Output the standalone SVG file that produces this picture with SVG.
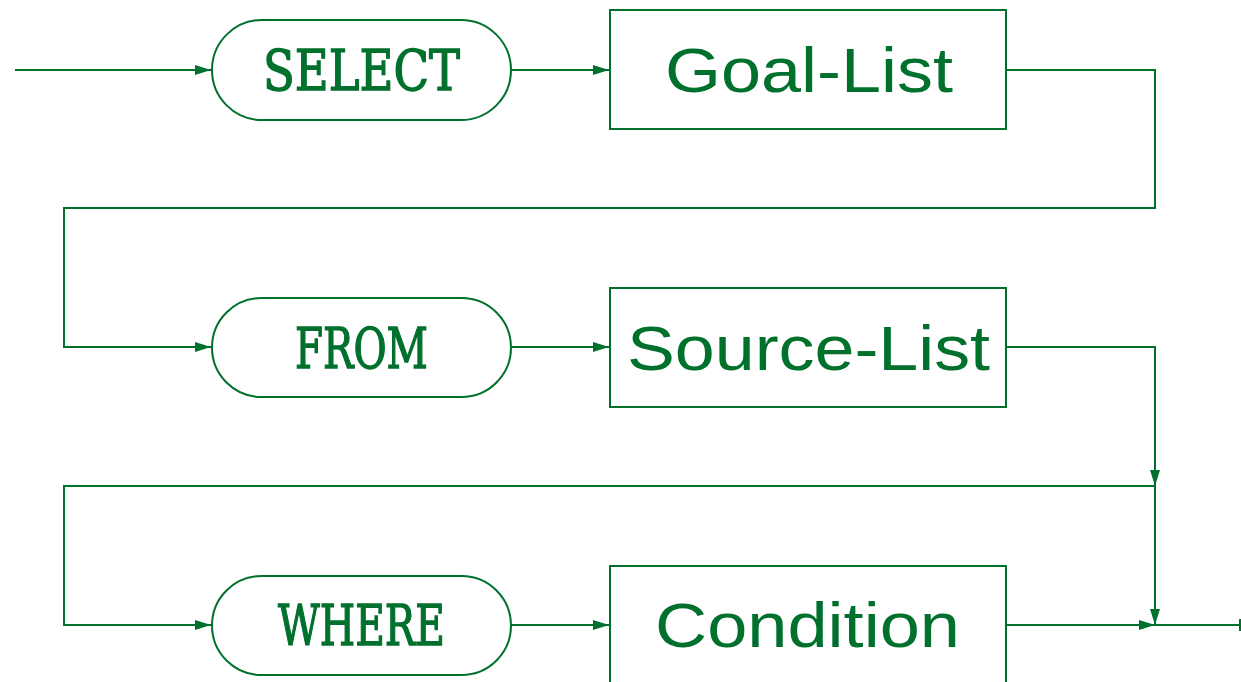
<svg xmlns="http://www.w3.org/2000/svg" width="1241" height="682" viewBox="0 0 1241 682">
  <defs>
    <marker id="arrow" viewBox="0 0 16 10" refX="16" refY="5" markerWidth="16" markerHeight="10" markerUnits="userSpaceOnUse" orient="auto">
      <path d="M0,0 L16,5 L0,10 Z" fill="#00702d"/>
    </marker>
    <style>
      .line { fill: none; stroke: #00702d; stroke-width: 2; stroke-linejoin: miter; }
      .shape { fill: #ffffff; stroke: #00702d; stroke-width: 2; }
      .kw { font-family: "DejaVu Serif", "Liberation Mono", monospace; font-stretch: condensed; font-size: 56px; fill: #00702d; stroke: #00702d; stroke-width: 1.3; }
      .nt { font-family: "Liberation Sans", Arial, sans-serif; font-size: 63px; fill: #00702d; }
    </style>
  </defs>

  <!-- connectors -->
  <g id="connectors">
    <line class="line" x1="15" y1="70" x2="211" y2="70" marker-end="url(#arrow)"/>
    <line class="line" x1="511" y1="70" x2="609" y2="70" marker-end="url(#arrow)"/>
    <polyline class="line" points="1006,70 1155,70 1155,208 64,208 64,347 211,347" marker-end="url(#arrow)"/>
    <line class="line" x1="511" y1="347" x2="609" y2="347" marker-end="url(#arrow)"/>
    <polyline class="line" points="1006,347 1155,347 1155,486" marker-end="url(#arrow)"/>
    <line class="line" x1="1155" y1="486" x2="1155" y2="625" marker-end="url(#arrow)"/>
    <polyline class="line" points="1155,486 64,486 64,625 211,625" marker-end="url(#arrow)"/>
    <line class="line" x1="511" y1="625" x2="609" y2="625" marker-end="url(#arrow)"/>
    <line class="line" x1="1006" y1="625" x2="1155" y2="625" marker-end="url(#arrow)"/>
    <line class="line" x1="1155" y1="625" x2="1240" y2="625"/>
    <line class="line" x1="1240" y1="619" x2="1240" y2="631"/>
  </g>

  <!-- keyword: SELECT -->
  <g id="select">
    <rect class="shape" x="212" y="20" width="299" height="100" rx="50" ry="50"/>
    <text class="kw" x="263" y="90" textLength="197" lengthAdjust="spacingAndGlyphs">SELECT</text>
  </g>

  <!-- non-terminal: Goal-List -->
  <g id="goal-list">
    <rect class="shape" x="610" y="10" width="396" height="119"/>
    <text class="nt" x="665" y="92" textLength="288" lengthAdjust="spacingAndGlyphs">Goal-List</text>
  </g>

  <!-- keyword: FROM -->
  <g id="from">
    <rect class="shape" x="212" y="298" width="299" height="99" rx="49.5" ry="49.5"/>
    <text class="kw" x="295" y="368" textLength="133" lengthAdjust="spacingAndGlyphs">FROM</text>
  </g>

  <!-- non-terminal: Source-List -->
  <g id="source-list">
    <rect class="shape" x="610" y="288" width="396" height="119"/>
    <text class="nt" x="627" y="370" textLength="363" lengthAdjust="spacingAndGlyphs">Source-List</text>
  </g>

  <!-- keyword: WHERE -->
  <g id="where">
    <rect class="shape" x="212" y="576" width="299" height="99" rx="49.5" ry="49.5"/>
    <text class="kw" x="278" y="645" textLength="167" lengthAdjust="spacingAndGlyphs">WHERE</text>
  </g>

  <!-- non-terminal: Condition -->
  <g id="condition">
    <rect class="shape" x="610" y="566" width="396" height="130"/>
    <text class="nt" x="655" y="647" textLength="305" lengthAdjust="spacingAndGlyphs">Condition</text>
  </g>
</svg>
